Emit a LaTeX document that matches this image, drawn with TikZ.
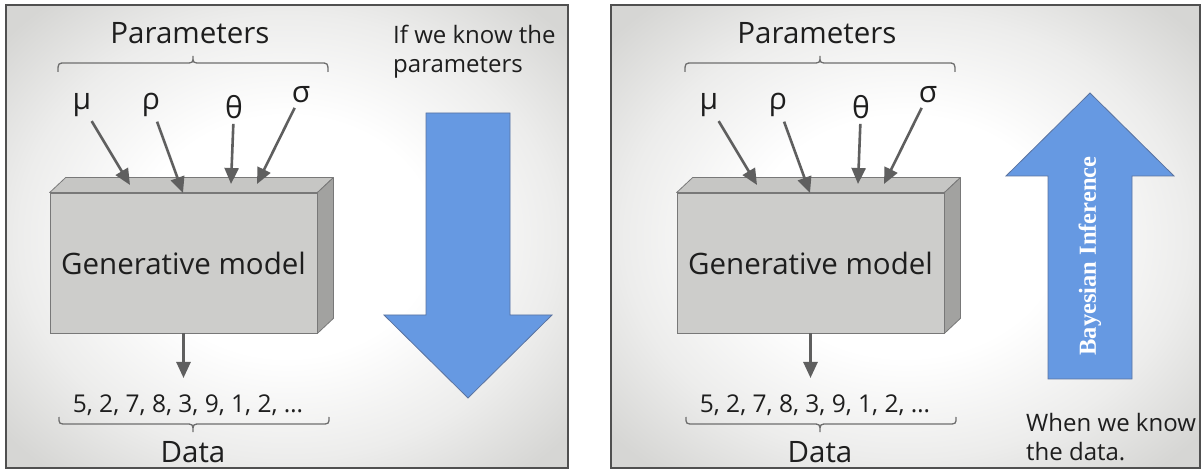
\documentclass[tikz,border=0pt]{standalone}
\usepackage{fontspec}
\setmainfont{Open Sans}
\newfontfamily\bayesfont{Liberation Serif}
\usetikzlibrary{arrows.meta}
\definecolor{panelbg}{RGB}{214,214,212}
\definecolor{panelline}{RGB}{80,80,80}
\definecolor{arrowgray}{RGB}{95,95,95}
\definecolor{boxfront}{RGB}{205,205,203}
\definecolor{boxtop}{RGB}{198,198,196}
\definecolor{boxside}{RGB}{162,162,160}
\definecolor{boxline}{RGB}{120,120,120}
\definecolor{bigblue}{RGB}{102,153,226}
\definecolor{bigblueline}{RGB}{90,115,160}
\definecolor{txt}{RGB}{30,30,30}
\definecolor{bracegray}{RGB}{110,110,110}
\pgfdeclareradialshading{panelshade}{\pgfpoint{0bp}{0bp}}{color(0bp)=(white); color(13bp)=(white); color(24bp)=(panelbg!45!white); color(33bp)=(panelbg); color(50bp)=(panelbg)}
\tikzset{
  bigtext/.style={font=\fontsize{29.5}{34}\selectfont, text=txt, inner sep=0pt},
  greek/.style={font=\fontsize{30}{34}\selectfont, text=txt, inner sep=0pt},
  datatext/.style={font=\fontsize{24.5}{29}\selectfont, text=txt, inner sep=0pt},
  sidetext/.style={font=\fontsize{24}{29}\selectfont, text=txt, inner sep=0pt, align=left, anchor=west},
  parr/.style={draw=arrowgray, line width=2.6pt, -{Triangle[length=16pt,width=14pt]}},
  bracestyle/.style={draw=bracegray, line width=1.3pt},
  boxfrontstyle/.style={fill=boxfront, draw=boxline, line width=0.8pt, minimum width=267pt, minimum height=140pt, inner sep=0pt, font=\fontsize{29.5}{34}\selectfont, text=txt},
  boxtopstyle/.style={fill=boxtop, draw=boxline, line width=0.8pt, line join=round},
  boxsidestyle/.style={fill=boxside, draw=boxline, line width=0.8pt, line join=round},
  bluearrow/.style={fill=bigblue, draw=bigblueline, line width=0.8pt, line join=miter},
  panelframe/.style={draw=panelline, line width=2pt},
}
\newcommand\panelbody[2]{%
\begin{scope}[xshift=#2pt]
  \node[bigtext] (#1par) at (190,33) {Parameters};
  \draw[bracestyle] (58,72) .. controls (58,63) .. (66,63) -- (185,63) .. controls (193,63) .. (193,56)
     .. controls (193,63) .. (201,63) -- (320,63) .. controls (328,63) .. (328,72);
  \node[greek] (#1mu) at (82,105) {μ};
  \node[greek] (#1rho) at (151,105) {ρ};
  \node[greek] (#1theta) at (234,107) {θ};
  \node[greek] (#1sigma) at (301,95) {σ};
  \node[boxfrontstyle] (#1box) at (183.5,263) {Generative model};
  \draw[boxtopstyle] (#1box.north west) -- ++(16,-15) -- ([shift={(16,-15)}]#1box.north east) -- (#1box.north east) -- cycle;
  \draw[boxsidestyle] (#1box.north east) -- ++(16,-15) -- ([shift={(16,-15)}]#1box.south east) -- (#1box.south east) -- cycle;
  \coordinate (#1mue) at (130,185);
  \coordinate (#1rhoe) at (183,193);
  \coordinate (#1thetae) at (231,184);
  \coordinate (#1sigmae) at (257,184);
  \draw[parr, shorten <=5pt] (#1mu) -- (#1mue);
  \draw[parr, shorten <=5pt] (#1rho) -- (#1rhoe);
  \draw[parr, shorten <=5pt] (#1theta) -- (#1thetae);
  \draw[parr, shorten <=5pt] (#1sigma) -- (#1sigmae);
  \coordinate (#1dataend) at (183.5,378);
  \draw[parr] (#1box.south) -- (#1dataend);
  \node[datatext] (#1data) at (188,405) {5, 2, 7, 8, 3, 9, 1, 2, …};
  \draw[bracestyle] (59,417) .. controls (59,424) .. (67,424) -- (185,424) .. controls (193,424) .. (193,432)
     .. controls (193,424) .. (201,424) -- (321,424) .. controls (329,424) .. (329,417);
  \node[bigtext] (#1datalbl) at (193,452) {Data};
\end{scope}}
\begin{document}
\begin{tikzpicture}[x=1pt,y=-1pt]
  \useasboundingbox (0,0) rectangle (1203,470);
  \fill[white] (0,0) rectangle (1203,470);
  % left panel
  \shade[shading=panelshade] (6,5) rectangle (568,468);
  \draw[panelframe] (6,5) rectangle (568,468);
  \panelbody{l}{0}
  \node[sidetext] (lknow) at (393,52) {If we know the\\parameters};
  \draw[bluearrow] (426,113) -- (510,113) -- (510,315) -- (552,315) -- (468,398) -- (384,315) -- (426,315) -- cycle;
  % right panel
  \shade[shading=panelshade] (611,5) rectangle (1200,468);
  \draw[panelframe] (611,5) rectangle (1200,468);
  \panelbody{r}{627}
  \draw[bluearrow] (1048,379) -- (1132,379) -- (1132,176) -- (1174,176) -- (1090,93) -- (1006,176) -- (1048,176) -- cycle;
  \node[rotate=90, text=white, inner sep=0pt, font=\bayesfont\bfseries\fontsize{24.5}{29}\selectfont] (rbayes) at (1090,256) {Bayesian Inference};
  \node[sidetext] (rknow) at (1026,437) {When we know\\the data.};
\end{tikzpicture}
\end{document}
